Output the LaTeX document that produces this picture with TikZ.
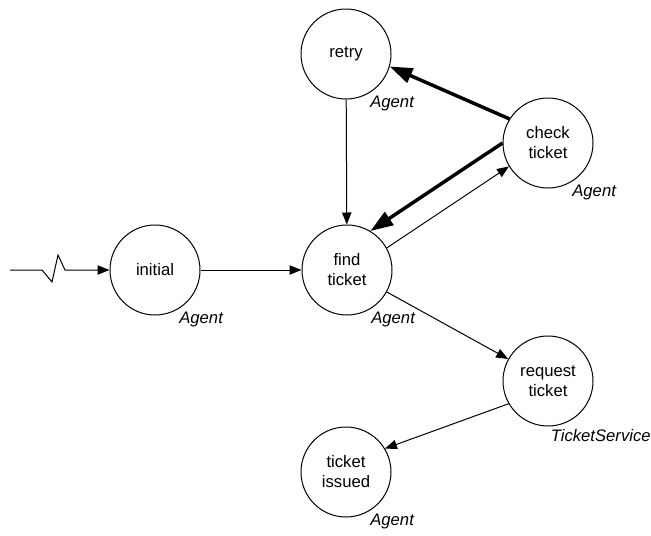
\documentclass[tikz,border=0pt]{standalone}
\usepackage{fontspec}
\setmainfont{Liberation Sans}
\usepackage{tikz}
\usetikzlibrary{arrows.meta}
\tikzset{
  state/.style={ draw, circle, line width=0.75pt, minimum size=67.5pt, inner sep=0pt, align=center, font=\fontsize{12.5}{15}\selectfont }
}
\tikzset{
  role/.style={ font=\fontsize{12.5}{15}\selectfont\itshape, anchor=north west, inner sep=0pt, label distance=2pt }
}
\tikzset{
  arr/.style={ line width=0.75pt, -{Triangle[length=9pt,width=7pt]} }
}
\tikzset{
  thickarr/.style={ line width=2.6pt, -{Triangle[length=17pt,width=11.5pt]} }
}

\begin{document}
\begin{tikzpicture}[x=0.75pt, y=-0.75pt]
      \useasboundingbox (0, 0) rectangle (651, 536);
      \node[state, label={[role]-60:Agent}] (initial) at (155, 270) {initial};
      \node[state, label={[role]-60:Agent}] (retry) at (346, 54) {retry};
      \node[state, label={[role]-60:Agent}] (find) at (347, 270) {find\\ticket};
      \node[state, label={[role]-60:Agent}] (check) at (548, 143) {check\\ticket};
      \node[state, label={[role]-87:TicketService}] (request) at (548, 381) {request\\ticket};
      \node[state, label={[role]-60:Agent}] (issued) at (346, 472) {ticket\\issued};
      \coordinate (start) at (10, 270);
      \draw[arr] (start) -- ++(32, 0) -- ++(10, 12) -- ++(6, -27) -- ++(7, 15) -- (initial);
      \draw[arr] (initial) -- (find);
      \draw[arr] (retry) -- (find);
      \draw[arr] (find.29) -- (check.211);
      \draw[thickarr] (check.180) -- (find.59);
      \draw[thickarr] (check.148) -- (retry.-16);
      \draw[arr] (find) -- (request);
      \draw[arr] (request.210) -- (issued.31);
    \end{tikzpicture}
\end{document}
